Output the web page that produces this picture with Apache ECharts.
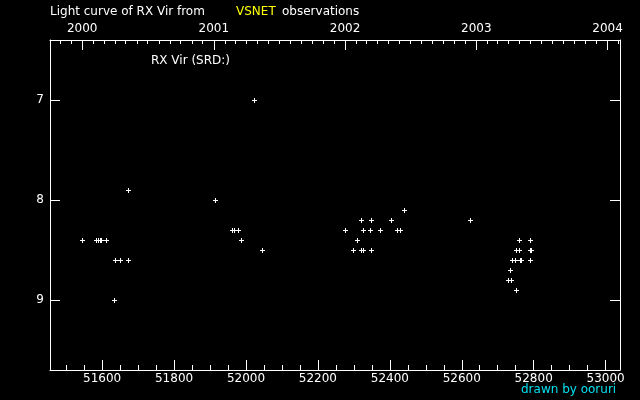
<!DOCTYPE html>
<html>
<head>
<meta charset="utf-8">
<script src="https://cdn.jsdelivr.net/npm/echarts@6/dist/echarts.min.js"></script>
<style>html,body{margin:0;padding:0;background:#000;}#c{width:640px;height:400px;}</style>
</head>
<body>
<div id="c"></div>
<script>
// Observations: JD-2400000 and visual magnitude
var jd = [51544, 51583, 51589, 51594, 51597, 51611, 51633, 51636, 51650, 51672, 51672,
          51914, 51961, 51967, 51978, 51986, 52022, 52044,
          52275, 52297, 52308, 52319, 52319, 52325, 52325, 52344, 52347, 52347, 52372, 52403, 52419, 52428, 52439,
          52622,
          52728, 52733, 52736, 52739, 52747, 52750, 52750, 52758, 52758, 52761, 52764, 52789, 52789, 52789, 52792];
var mag = [8.4, 8.4, 8.4, 8.4, 8.4, 8.4, 9.0, 8.6, 8.6, 8.6, 7.9,
           8.0, 8.3, 8.3, 8.3, 8.4, 7.0, 8.5,
           8.3, 8.5, 8.4, 8.2, 8.5, 8.3, 8.5, 8.3, 8.2, 8.5, 8.3, 8.2, 8.3, 8.3, 8.1,
           8.2,
           8.8, 8.7, 8.8, 8.6, 8.6, 8.5, 8.9, 8.4, 8.5, 8.6, 8.6, 8.4, 8.5, 8.6, 8.5];
// Tick labels
var jdTicks = [51600, 51800, 52000, 52200, 52400, 52600, 52800, 53000];
var magTicks = [7, 8, 9];
var yearLabels = ['2000', '2001', '2002', '2003', '2004'];

var JD_MIN = 51455, JD_MAX = 53040;
function dateToJD(y, m, d) { return Date.UTC(y, m, d) / 86400000 + 40587.5; }
var yearJD = yearLabels.map(function (y) { return dateToJD(+y, 0, 1); });
var monthJD = [];
for (var y = 1999; y <= 2004; y++) for (var m = 0; m < 12; m++) {
  var v = dateToJD(y, m, 1);
  if (v > JD_MIN && v < JD_MAX) monthJD.push(v);
}
var minorJD = [];
for (var v = 51500; v <= 53000; v += 50) minorJD.push(v);

var data = jd.map(function (x, i) { return [x, mag[i]]; });
var W = '#ffffff';
var FONT = '"DejaVu Sans"';
var line = { show: true, lineStyle: { color: W, width: 1 } };

function renderPlus(params, api) {
  var p = api.coord([api.value(0), api.value(1)]);
  var cx = Math.round(p[0]), cy = Math.round(p[1]);
  return {
    type: 'group',
    children: [
      { type: 'rect', shape: { x: cx - 2, y: cy, width: 5, height: 1 }, style: { fill: W } },
      { type: 'rect', shape: { x: cx, y: cy - 2, width: 1, height: 5 }, style: { fill: W } }
    ]
  };
}

var chart = echarts.init(document.getElementById('c'), null, { renderer: 'canvas' });
chart.setOption({
  backgroundColor: '#000000',
  animation: false,
  grid: { left: 50, right: 20, top: 40, bottom: 30, containLabel: false },
  xAxis: [
    { type: 'value', position: 'bottom', min: JD_MIN, max: JD_MAX, axisLine: line,
      axisTick: { show: true, inside: true, length: 10, customValues: jdTicks, lineStyle: { color: W } },
      axisLabel: { show: true, customValues: jdTicks, color: W, fontFamily: FONT, fontSize: 12, margin: 3,
        formatter: function (v) { return String(v); } },
      splitLine: { show: false } },
    { type: 'value', position: 'bottom', min: JD_MIN, max: JD_MAX, axisLine: { show: false },
      axisTick: { show: true, inside: true, length: 5, customValues: minorJD, lineStyle: { color: W } },
      axisLabel: { show: false }, splitLine: { show: false } },
    { type: 'value', position: 'top', min: JD_MIN, max: JD_MAX, axisLine: line,
      axisTick: { show: true, inside: true, length: 10, customValues: yearJD, lineStyle: { color: W } },
      axisLabel: { show: true, customValues: yearJD, color: W, fontFamily: FONT, fontSize: 12, margin: 5,
        formatter: function (v) { var i = yearJD.indexOf(v); return i >= 0 ? yearLabels[i] : ''; } },
      splitLine: { show: false } },
    { type: 'value', position: 'top', min: JD_MIN, max: JD_MAX, axisLine: { show: false },
      axisTick: { show: true, inside: true, length: 4, customValues: monthJD, lineStyle: { color: W } },
      axisLabel: { show: false }, splitLine: { show: false } }
  ],
  yAxis: [
    { type: 'value', position: 'left', min: 6.4, max: 9.7, inverse: true, axisLine: line,
      axisTick: { show: true, inside: true, length: 10, customValues: magTicks, lineStyle: { color: W } },
      axisLabel: { show: true, customValues: magTicks, color: W, fontFamily: FONT, fontSize: 12, margin: 6 },
      splitLine: { show: false } },
    { type: 'value', position: 'right', min: 6.4, max: 9.7, inverse: true, axisLine: line,
      axisTick: { show: true, inside: true, length: 10, customValues: magTicks, lineStyle: { color: W } },
      axisLabel: { show: false }, splitLine: { show: false } }
  ],
  series: [{
    type: 'custom', xAxisIndex: 0, yAxisIndex: 0, data: data,
    renderItem: renderPlus, silent: true
  }],
  graphic: [
    { type: 'text', style: { text: 'Light curve of RX Vir from', x: 50, y: 12, fill: W, font: '12px ' + FONT, verticalAlign: 'middle' } },
    { type: 'text', style: { text: 'VSNET', x: 236, y: 12, fill: '#ffff00', font: '12px ' + FONT, verticalAlign: 'middle' } },
    { type: 'text', style: { text: 'observations', x: 282, y: 12, fill: W, font: '12px ' + FONT, verticalAlign: 'middle' } },
    { type: 'text', style: { text: 'RX Vir (SRD:)', x: 151, y: 61, fill: W, font: '12px ' + FONT, verticalAlign: 'middle' } },
    { type: 'text', style: { text: 'drawn by ooruri', x: 521, y: 390, fill: '#00e0f0', font: '12px ' + FONT, verticalAlign: 'middle' } }
  ]
});
</script>
</body>
</html>
